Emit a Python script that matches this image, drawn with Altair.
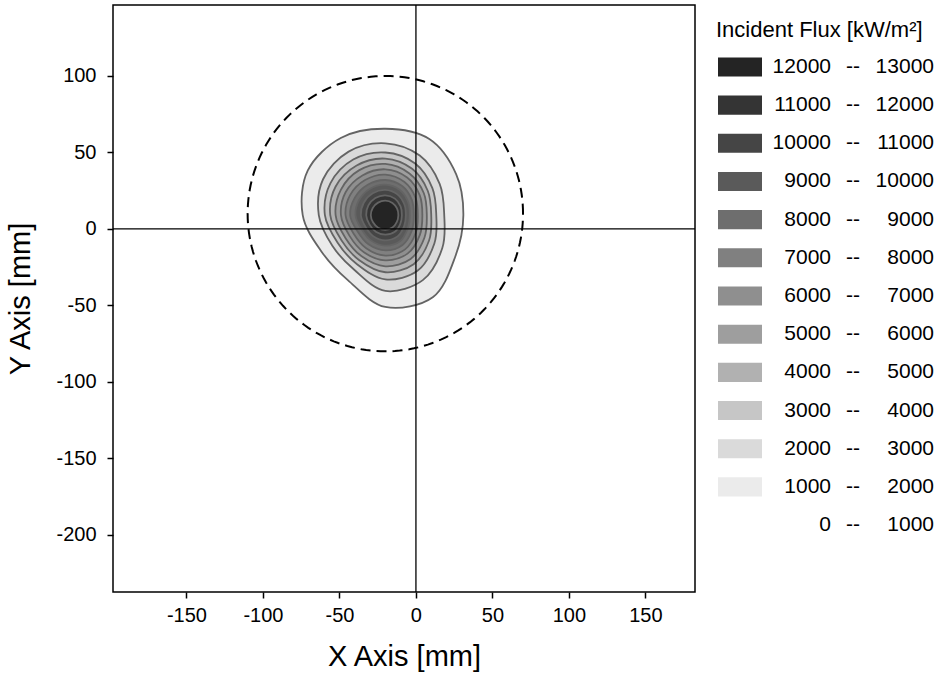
import altair as alt
import numpy as np
import pandas as pd

# ---- flux map data -------------------------------------------------------
# contour levels in kW/m^2; each polygon encloses flux above its level
levels = [1000, 2000, 3000, 4000, 5000, 6000, 7000, 8000, 9000, 10000, 11000, 12000]
# peak location of the flux spot (mm)
peak_x, peak_y = -20.0, 9.0
# directions (deg, counter-clockwise from +x) at which contour radii are given
angles_deg = [0, 30, 60, 90, 120, 150, 180, 210, 240, 270, 300, 330]
# contour radius (mm) from the peak along each direction, one list per level
r_1000 = [51.0, 53.5, 57.5, 56.5, 58.3, 58.5, 54.0, 48.0, 49.0, 60.0, 62.0, 53.0]
r_2000 = [38.5, 41.0, 45.0, 47.0, 48.0, 47.0, 43.5, 40.0, 41.0, 49.5, 49.0, 43.0]
r_3000 = [33.3, 35.5, 39.0, 41.0, 42.0, 41.5, 39.5, 36.0, 37.0, 42.0, 42.0, 37.0]
r_4000 = [30.0, 32.0, 35.0, 37.0, 37.5, 37.5, 36.0, 33.0, 34.0, 37.3, 37.0, 33.0]
r_5000 = [27.1, 29.0, 31.5, 33.5, 34.0, 33.5, 32.5, 30.0, 31.0, 33.4, 33.0, 29.5]
r_6000 = [24.2, 26.0, 28.5, 30.0, 30.0, 30.0, 29.0, 27.0, 28.0, 29.5, 29.0, 26.0]
r_7000 = [21.2, 22.8, 25.0, 26.5, 26.5, 26.5, 26.0, 24.0, 25.0, 26.4, 25.8, 23.0]
r_8000 = [18.6, 20.0, 22.0, 23.0, 23.0, 23.0, 23.0, 21.0, 22.0, 23.0, 22.5, 20.0]
r_9000 = [16.0, 17.2, 19.0, 20.0, 20.0, 19.8, 19.5, 18.0, 19.0, 19.9, 19.5, 17.0]
r_10000 = [13.4, 14.3, 15.7, 16.5, 16.5, 16.3, 16.0, 15.0, 15.8, 16.4, 16.0, 14.2]
r_11000 = [10.8, 11.5, 12.5, 13.0, 13.0, 12.8, 12.5, 12.0, 12.5, 12.7, 12.5, 11.3]
r_12000 = [8.5, 8.8, 9.3, 9.5, 9.5, 9.5, 9.5, 9.3, 9.4, 9.5, 9.3, 8.7]
radii = [r_1000, r_2000, r_3000, r_4000, r_5000, r_6000,
         r_7000, r_8000, r_9000, r_10000, r_11000, r_12000]

# grey shade for each flux band (band lower bound -> colour)
band_lo = [12000, 11000, 10000, 9000, 8000, 7000, 6000, 5000, 4000, 3000, 2000, 1000, 0]
band_hi = [13000, 12000, 11000, 10000, 9000, 8000, 7000, 6000, 5000, 4000, 3000, 2000, 1000]
band_color = ["#242424", "#343434", "#454545", "#5a5a5a", "#6e6e6e", "#808080",
              "#8f8f8f", "#9e9e9e", "#b1b1b1", "#c6c6c6", "#dadada", "#ebebeb", "#ffffff"]

# aperture outline (mm)
aperture_cx, aperture_cy, aperture_r = -20.0, 10.0, 90.0

# axis ranges and ticks (mm)
x_domain = [-198.0, 182.4]
y_domain = [-237.3, 146.4]
x_ticks = [-150, -100, -50, 0, 50, 100, 150]
y_ticks = [-200, -150, -100, -50, 0, 50, 100]

# ---- tables --------------------------------------------------------------
rows = []
for lvl, rr in zip(levels, radii):
    for k, (a, r) in enumerate(zip(angles_deg, rr)):
        t = np.deg2rad(a)
        rows.append({"level": lvl, "idx": k,
                     "x": peak_x + r * np.cos(t), "y": peak_y + r * np.sin(t)})
contours = pd.DataFrame(rows)

phi = np.deg2rad(np.arange(0, 361, 2))
aperture = pd.DataFrame({"idx": np.arange(len(phi)),
                         "x": aperture_cx + aperture_r * np.cos(phi),
                         "y": aperture_cy + aperture_r * np.sin(phi)})

xs = alt.Scale(domain=x_domain, nice=False, zero=False)
ys = alt.Scale(domain=y_domain, nice=False, zero=False)
fill_scale = alt.Scale(domain=band_lo, range=band_color)

# plain hyphen for negative tick labels
hyphen = "replace(datum.label, '\u2212', '-')"
x_axis = alt.Axis(values=x_ticks, title="X Axis [mm]", labelPadding=7,
                  titlePadding=17, format="d", labelExpr=hyphen)
y_axis = alt.Axis(values=y_ticks, title="Y Axis [mm]", labelPadding=11,
                  titlePadding=20, format="d", labelExpr=hyphen)

flux = alt.Chart(contours).mark_line(
    interpolate="cardinal-closed", stroke="#646464", strokeWidth=1.8
).encode(
    x=alt.X("x:Q", scale=xs, axis=x_axis),
    y=alt.Y("y:Q", scale=ys, axis=y_axis),
    fill=alt.Fill("level:O", scale=fill_scale, legend=None),
    detail="level:O",
    order="idx:Q",
)

circle = alt.Chart(aperture).mark_line(
    color="black", strokeWidth=2, strokeDash=[10, 6]
).encode(x=alt.X("x:Q", scale=xs), y=alt.Y("y:Q", scale=ys), order="idx:Q")

vline = alt.Chart().mark_rule(color="black", strokeWidth=1.3).encode(x=alt.datum(0))
hline = alt.Chart().mark_rule(color="black", strokeWidth=1.3).encode(y=alt.datum(0))

main = alt.layer(flux, circle, vline, hline).properties(width=582, height=587)

# ---- legend panel --------------------------------------------------------
leg = pd.DataFrame({"row": np.arange(len(band_lo)), "lo": band_lo, "hi": band_hi,
                    "color": band_color})
leg["top"] = leg["row"] - 0.25
leg["bot"] = leg["row"] + 0.25
leg["lo_txt"] = leg["lo"].astype(str)
leg["hi_txt"] = leg["hi"].astype(str)
ly = alt.Scale(domain=[-1.624, 13.755], reverse=True, nice=False, zero=False)

swatch = alt.Chart(leg).transform_filter("datum.lo > 0").mark_rect().encode(
    x=alt.value(4), x2=alt.value(48),
    y=alt.Y("top:Q", scale=ly, axis=None), y2="bot:Q",
    fill=alt.Fill("color:N", scale=None),
)
txt_style = dict(font="Liberation Sans", fontSize=21, baseline="middle", color="black")
lo_txt = alt.Chart(leg).mark_text(align="right", **txt_style).encode(
    x=alt.value(117), y=alt.Y("row:Q", scale=ly, axis=None), text="lo_txt:N")
dash_txt = alt.Chart(leg).mark_text(align="center", **txt_style).encode(
    x=alt.value(139), y=alt.Y("row:Q", scale=ly, axis=None), text=alt.value("--"))
hi_txt = alt.Chart(leg).mark_text(align="right", **txt_style).encode(
    x=alt.value(220), y=alt.Y("row:Q", scale=ly, axis=None), text="hi_txt:N")
leg_title = alt.Chart(leg).transform_filter("datum.row == 0").mark_text(
    align="left", baseline="middle", font="Liberation Sans", fontSize=22, color="black"
).encode(x=alt.value(2), y=alt.datum(-0.969, scale=ly),
         text=alt.value("Incident Flux [kW/m²]"))

legend = alt.layer(swatch, lo_txt, dash_txt, hi_txt, leg_title).properties(
    width=222, height=587, view=alt.ViewBackground(stroke="transparent")
)

chart = alt.hconcat(main, legend, spacing=16).properties(
    padding={"left": 6, "top": 3, "right": 0, "bottom": 0}
).configure_view(stroke="black", strokeWidth=1.5).configure_axis(
    grid=False, domain=False, tickColor="black", tickWidth=1.5, tickSize=6,
    labelFont="Liberation Sans", labelFontSize=20, labelColor="black",
    titleFont="Liberation Sans", titleFontSize=29, titleFontWeight="normal",
    titleColor="black",
)

chart.save("out.html", embed_options={"renderer": "svg", "actions": False})
